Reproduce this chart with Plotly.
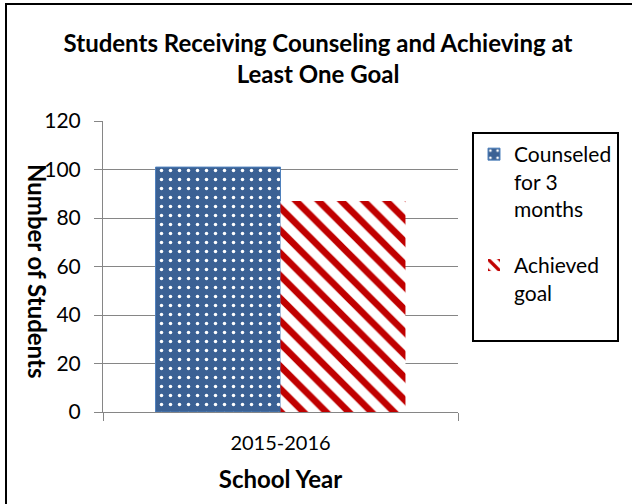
import plotly.graph_objects as go

categories = ["2015-2016"]
counseled = [101]
achieved = [87]
series_names = ["Counseled<br>for 3<br>months", "Achieved<br>goal<br> "]
y_ticks = [0, 20, 40, 60, 80, 100, 120]

FONT = "Lato, Carlito, Calibri, sans-serif"
GRID = "#868686"
L, R, T, B = 103, 174, 121, 92
W, H = 632, 504
PW, PH = W - L - R, H - T - B


def px_x(x):
    return (x - L) / PW


def px_y(y):
    return (H - B - y) / PH


fig = go.Figure()
fig.add_trace(go.Bar(
    x=categories, y=counseled, name=series_names[0], legendgroup="a",
    marker=dict(color="#3B6194", line=dict(color="#4F81BD", width=1),
                pattern=dict(shape=".", fgcolor="white", bgcolor="#3B6194",
                             size=9, solidity=0.12, fillmode="replace")),
))
fig.add_trace(go.Bar(
    x=categories, y=achieved, name=series_names[1], legendgroup="b",
    marker=dict(color="white", line=dict(color="white", width=0),
                pattern=dict(shape="\\", fgcolor="#C00000", bgcolor="white",
                             size=16, solidity=0.42, fillmode="replace")),
))

fig.update_layout(
    width=W, height=H,
    paper_bgcolor="white", plot_bgcolor="white",
    margin=dict(l=L, r=R, t=T, b=B, autoexpand=False),
    barmode="group", bargap=0.296, bargroupgap=0,
    font=dict(family=FONT, size=20, color="black"),
    title=dict(text="<b>Students Receiving Counseling and Achieving at<br>Least One Goal</b>",
               x=318 / W, xref="container", xanchor="center",
               y=1 - 52 / H, yref="container", yanchor="middle",
               font=dict(family=FONT, size=24, color="black")),
    showlegend=True,
    legend=dict(x=px_x(472), xanchor="left", y=px_y(132), yanchor="top",
                bordercolor="black", borderwidth=2, bgcolor="white",
                font=dict(family=FONT, size=21, color="black"),
                valign="top", tracegroupgap=26, itemwidth=30),
    xaxis=dict(showline=True, linecolor=GRID, linewidth=1,
               ticks="outside", tickson="boundaries", ticklen=8, tickcolor=GRID,
               tickfont=dict(size=20), ticklabelstandoff=13,
               title=dict(text="<b>School Year</b>", font=dict(size=24), standoff=18)),
    yaxis=dict(range=[0, 120], tickvals=y_ticks, showgrid=True, gridcolor=GRID,
               gridwidth=1, showline=True, linecolor=GRID, linewidth=1,
               ticks="outside", ticklen=8, tickcolor=GRID, zeroline=False,
               tickfont=dict(size=21), ticklabelstandoff=9),
    annotations=[dict(text="<b>Number of Students</b>", textangle=90,
                      xref="paper", yref="paper", x=px_x(38), y=px_y(271),
                      xanchor="center", yanchor="middle", showarrow=False,
                      font=dict(family=FONT, size=24, color="black"))],
    shapes=[
        dict(type="line", xref="paper", yref="paper",
             x0=px_x(6), x1=px_x(6), y0=px_y(4), y1=px_y(520),
             line=dict(color="black", width=2), layer="below"),
        dict(type="line", xref="paper", yref="paper",
             x0=px_x(5), x1=px_x(650), y0=px_y(4), y1=px_y(4),
             line=dict(color="black", width=2), layer="below"),
    ],
)

fig.write_html("out.html", config={"displayModeBar": False},
               post_script="document.body.style.margin='0';")
